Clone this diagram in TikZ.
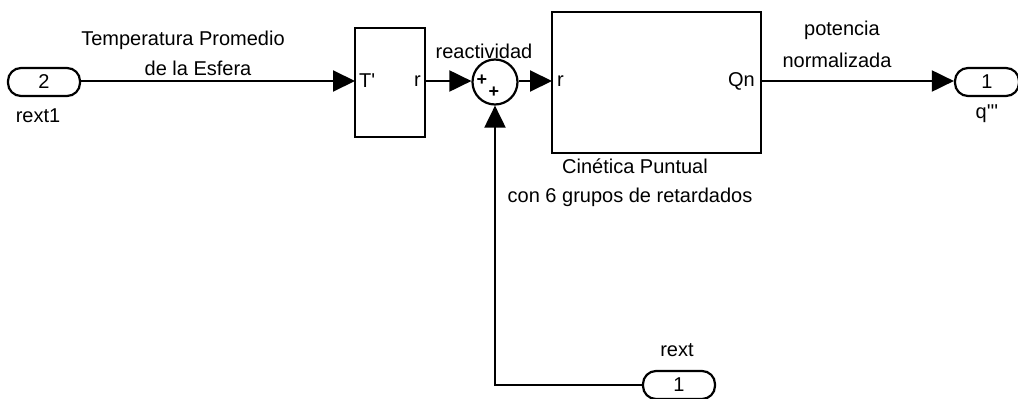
\documentclass[tikz,border=0pt]{standalone}
\usepackage{fontspec}
\newfontfamily\diafont{Liberation Sans}
\usetikzlibrary{arrows.meta}
\tikzset{
  txt/.style={font=\diafont\fontsize{20}{24}\selectfont, inner sep=0pt},
  port/.style={draw, line width=2.2pt, rounded corners=13pt, minimum height=28pt,
               inner sep=0pt, font=\diafont\fontsize{20}{24}\selectfont},
  blk/.style={draw, line width=2.2pt, inner sep=0pt},
  sumnode/.style={draw, circle, line width=2.2pt, minimum size=45pt, inner sep=0pt},
  sig/.style={line width=2pt, -{Triangle[length=22pt,width=21pt]}},
  sgn/.style={font=\diafont\bfseries\fontsize{18}{20}\selectfont, inner sep=0pt}
}
\begin{document}
\begin{tikzpicture}[x=1pt,y=-1pt]
\useasboundingbox (0,0) rectangle (1018,399);

% ports
\node[port, minimum width=72pt] (in2) at (44,82) {2};
\node[txt] (in2lbl) at (38,116) {rext1};
\node[port, minimum width=64pt] (out1) at (987,82) {1};
\node[txt] (out1lbl) at (987,114) {q'''};
\node[port, minimum width=72pt] (rext) at (679,385) {1};
\node[txt] (rextlbl) at (677,350) {rext};

% blocks
\node[blk, minimum width=70pt, minimum height=109pt] (tblk) at (390,82.5) {};
\node[txt, anchor=west] (tin) at (359,81) {T'};
\node[txt, anchor=east] (tout) at (421,81) {r};
\node[sumnode] (sum) at (495,82) {};
\node[sgn] (p1) at (482,80) {+};
\node[sgn] (p2) at (494,92) {+};
\node[blk, minimum width=209pt, minimum height=141pt] (kblk) at (656.5,82.5) {};
\node[txt, anchor=west] (kin) at (557,81) {r};
\node[txt, anchor=east] (kout) at (755,81) {Qn};
\node[txt] (kinl1) at (635,166) {Cinética Puntual};
\node[txt] (kinl2) at (630,197) {con 6 grupos de retardados};

% signal labels
\node[txt] (l1) at (183,40) {Temperatura Promedio};
\node[txt] (l2) at (198,68) {de la Esfera};
\node[txt] (l3) at (484,51) {reactividad};
\node[txt] (l4) at (842,30) {potencia};
\node[txt] (l5) at (837,60) {normalizada};

% connectors
\coordinate (tW) at (355,81);
\coordinate (tE) at (425,81);
\coordinate (kW) at (552,81);
\coordinate (kE) at (761,81);
\draw[sig] (in2.east |- tW) -- (tW);
\draw[sig] (tE) -- (sum.west |- tW);
\draw[sig] (sum.east |- tW) -- (kW);
\draw[sig] (kE) -- (out1.west |- kE);
\draw[sig] (rext.west) -| (sum.south);
\end{tikzpicture}
\end{document}
